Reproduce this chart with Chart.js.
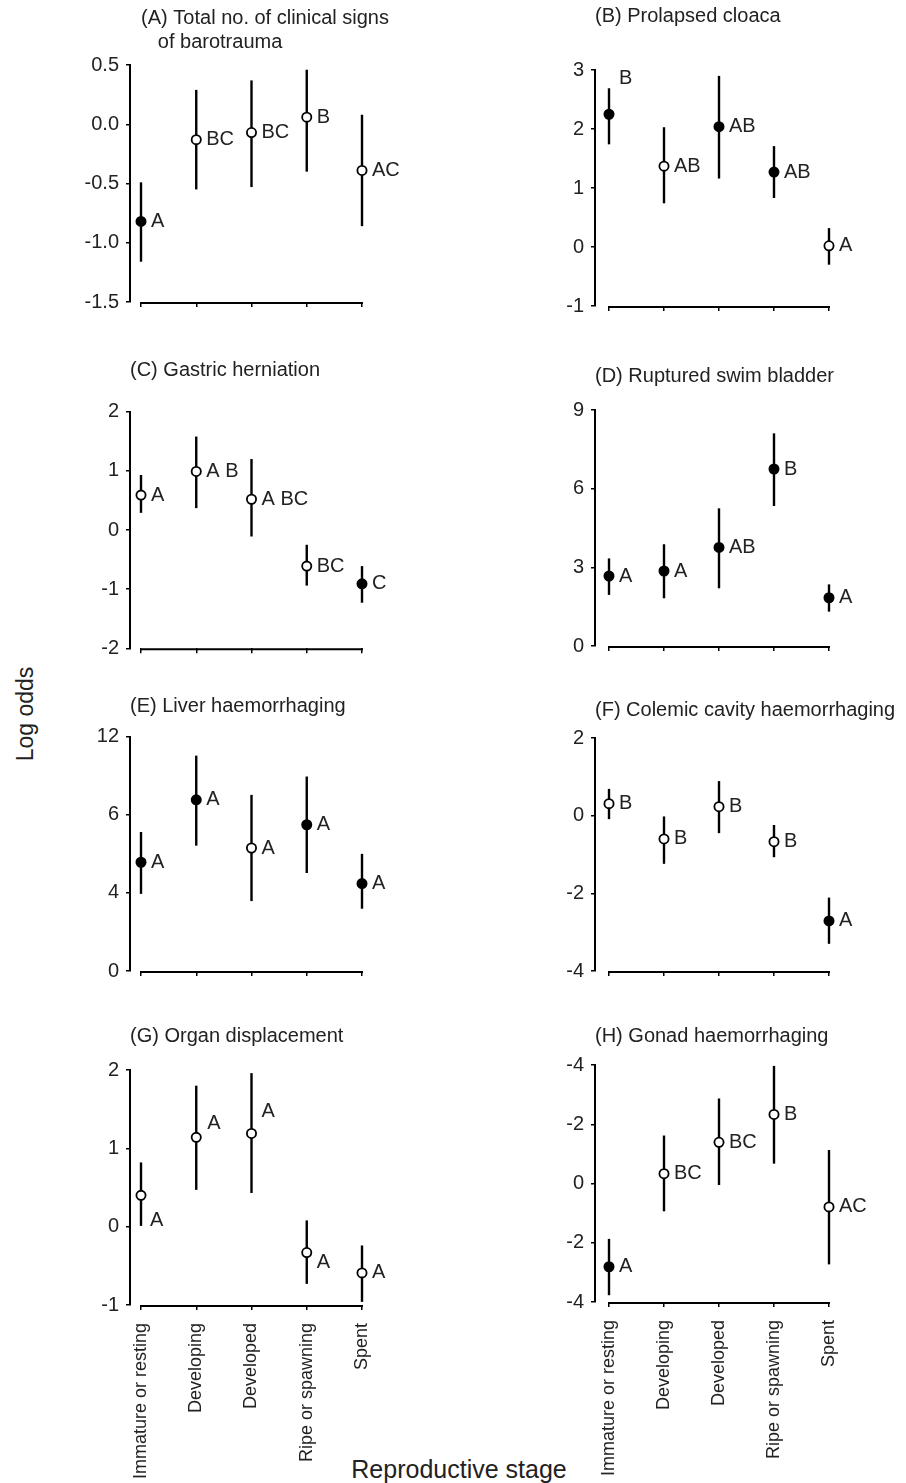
<!DOCTYPE html>
<html>
<head>
<meta charset="utf-8">
<script src="https://cdn.jsdelivr.net/npm/chart.js@4.4.1/dist/chart.umd.min.js"></script>
<style>
  html, body { margin: 0; padding: 0; background: #fff; }
  #wrap { position: relative; width: 906px; height: 1483px; overflow: hidden;
          font-family: "Liberation Sans", Arial, sans-serif; color: #222; }
  #wrap canvas { position: absolute; }
  .ylab { position: absolute; left: 25px; top: 714px; transform: translate(-50%, -50%) rotate(-90deg);
          font-size: 23px; white-space: nowrap; }
  .xlab { position: absolute; left: 459px; top: 1469px; transform: translate(-50%, -50%);
          font-size: 25px; white-space: nowrap; }
</style>
</head>
<body>
<div id="wrap">
  <div class="ylab">Log odds</div>
  <div class="xlab">Reproductive stage</div>
</div>
<script>
// ---------------- DATA ----------------
const stages = ["Immature or resting", "Developing", "Developed", "Ripe or spawning", "Spent"];

// (A) Total no. of clinical signs of barotrauma
const totalEst    = [-0.82, -0.13, -0.07, 0.06, -0.39];
const totalLow    = [-1.16, -0.55, -0.53, -0.40, -0.86];
const totalHigh   = [-0.49, 0.29, 0.37, 0.46, 0.08];
const totalFilled = [true, false, false, false, false];
const totalGroups = ["A", "BC", "BC", "B", "AC"];
const totalTicks  = [-1.5, -1, -0.5, 0, 0.5];
const totalTickLabels = ["-1.5", "-1.0", "-0.5", "0.0", "0.5"];

// (B) Prolapsed cloaca
const cloacaEst    = [2.25, 1.37, 2.04, 1.27, 0.02];
const cloacaLow    = [1.74, 0.74, 1.16, 0.83, -0.30];
const cloacaHigh   = [2.69, 2.03, 2.90, 1.71, 0.32];
const cloacaFilled = [true, false, true, true, false];
const cloacaGroups = ["B", "AB", "AB", "AB", "A"];
const cloacaTicks  = [-1, 0, 1, 2, 3];
const cloacaTickLabels = ["-1", "0", "1", "2", "3"];

// (C) Gastric herniation
const gastricEst    = [0.59, 0.99, 0.52, -0.61, -0.91];
const gastricLow    = [0.29, 0.37, -0.11, -0.94, -1.23];
const gastricHigh   = [0.93, 1.58, 1.20, -0.25, -0.61];
const gastricFilled = [false, false, false, false, true];
const gastricGroups = ["A", "A B", "A BC", "BC", "C"];
const gastricTicks  = [-2, -1, 0, 1, 2];
const gastricTickLabels = ["-2", "-1", "0", "1", "2"];

// (D) Ruptured swim bladder
const swimEst    = [2.67, 2.86, 3.76, 6.75, 1.84];
const swimLow    = [1.95, 1.82, 2.20, 5.34, 1.31];
const swimHigh   = [3.34, 3.88, 5.25, 8.11, 2.35];
const swimFilled = [true, true, true, true, true];
const swimGroups = ["A", "A", "AB", "B", "A"];
const swimTicks  = [0, 3, 6, 9];
const swimTickLabels = ["0", "3", "6", "9"];

// (E) Liver haemorrhaging
const liverEst    = [5.57, 8.77, 6.30, 7.49, 4.48];
const liverLow    = [3.95, 6.42, 3.58, 5.02, 3.19];
const liverHigh   = [7.12, 11.03, 9.02, 9.96, 6.00];
const liverFilled = [true, true, false, true, true];
const liverGroups = ["A", "A", "A", "A", "A"];
const liverTicks  = [0, 4, 8, 12];
const liverTickLabels = ["0", "4", "6", "12"];

// (F) Colemic cavity haemorrhaging
const colemicEst    = [0.31, -0.60, 0.23, -0.67, -2.71];
const colemicLow    = [-0.09, -1.24, -0.45, -1.07, -3.30];
const colemicHigh   = [0.69, -0.02, 0.89, -0.24, -2.11];
const colemicFilled = [false, false, false, false, true];
const colemicGroups = ["B", "B", "B", "B", "A"];
const colemicTicks  = [-4, -2, 0, 2];
const colemicTickLabels = ["-4", "-2", "0", "2"];

// (G) Organ displacement
const organEst    = [0.40, 1.14, 1.19, -0.33, -0.59];
const organLow    = [0.01, 0.47, 0.43, -0.73, -0.96];
const organHigh   = [0.82, 1.80, 1.96, 0.08, -0.24];
const organFilled = [false, false, false, false, false];
const organGroups = ["A", "A", "A", "A", "A"];
const organTicks  = [-1, 0, 1, 2];
const organTickLabels = ["-1", "0", "1", "2"];

// (H) Gonad haemorrhaging
const gonadEst    = [-2.81, 0.33, 1.39, 2.33, -0.79];
const gonadLow    = [-3.77, -0.94, -0.05, 0.67, -2.73];
const gonadHigh   = [-1.87, 1.62, 2.87, 3.97, 1.13];
const gonadFilled = [true, false, false, false, false];
const gonadGroups = ["A", "BC", "BC", "B", "AC"];
const gonadTicks  = [-4, -2, 0, 2, 4];
const gonadTickLabels = ["-4", "-2", "0", "-2", "-4"];

// ---------------- LAYOUT ----------------
const FONT = '"Liberation Sans", Arial, sans-serif';
const TEXT = '#222';
const COLS = [
  { canvasLeft: 30,  width: 440, axisX: 130, firstX: 141, lastX: 362 },
  { canvasLeft: 500, width: 420, axisX: 595, firstX: 609, lastX: 829 }
];
const panels = [
  { col: 0, top: 0,   height: 330, titleY: 18,    plotTop: 65,    plotBottom: 302,
    title: ["  (A) Total no. of clinical signs", "     of barotrauma"],
    est: totalEst, low: totalLow, high: totalHigh, filled: totalFilled, groups: totalGroups,
    ticks: totalTicks, tickLabels: totalTickLabels },
  { col: 1, top: 0,   height: 330, titleY: 16,    plotTop: 70,    plotBottom: 306,
    title: "(B) Prolapsed cloaca",
    est: cloacaEst, low: cloacaLow, high: cloacaHigh, filled: cloacaFilled, groups: cloacaGroups,
    ticks: cloacaTicks, tickLabels: cloacaTickLabels, shift: { 0: [10, -36] } },
  { col: 0, top: 330, height: 340, titleY: 370,   plotTop: 411.7, plotBottom: 648.3,
    title: "(C) Gastric herniation",
    est: gastricEst, low: gastricLow, high: gastricHigh, filled: gastricFilled, groups: gastricGroups,
    ticks: gastricTicks, tickLabels: gastricTickLabels },
  { col: 1, top: 330, height: 340, titleY: 376.7, plotTop: 410,   plotBottom: 646,
    title: "(D) Ruptured swim bladder",
    est: swimEst, low: swimLow, high: swimHigh, filled: swimFilled, groups: swimGroups,
    ticks: swimTicks, tickLabels: swimTickLabels },
  { col: 0, top: 660, height: 330, titleY: 706.7, plotTop: 736.7, plotBottom: 971.7,
    title: "(E) Liver haemorrhaging",
    est: liverEst, low: liverLow, high: liverHigh, filled: liverFilled, groups: liverGroups,
    ticks: liverTicks, tickLabels: liverTickLabels },
  { col: 1, top: 660, height: 330, titleY: 710,   plotTop: 738,   plotBottom: 973.5,
    title: "(F) Colemic cavity haemorrhaging",
    est: colemicEst, low: colemicLow, high: colemicHigh, filled: colemicFilled, groups: colemicGroups,
    ticks: colemicTicks, tickLabels: colemicTickLabels },
  { col: 0, top: 985, height: 498, titleY: 1036.7, plotTop: 1070, plotBottom: 1305, bottomRow: true,
    title: "(G) Organ displacement",
    est: organEst, low: organLow, high: organHigh, filled: organFilled, groups: organGroups,
    ticks: organTicks, tickLabels: organTickLabels,
    shift: { 0: [9, 25], 1: [11, -14], 2: [10, -22], 3: [10, 10], 4: [10, 0] } },
  { col: 1, top: 985, height: 498, titleY: 1036.7, plotTop: 1065, plotBottom: 1302, bottomRow: true,
    title: "(H) Gonad haemorrhaging",
    est: gonadEst, low: gonadLow, high: gonadHigh, filled: gonadFilled, groups: gonadGroups,
    ticks: gonadTicks, tickLabels: gonadTickLabels }
];

Chart.defaults.font.family = FONT;
Chart.defaults.color = TEXT;

const detachedXAxis = {
  id: 'detachedXAxis',
  beforeDatasetsDraw(chart) {
    const xs = chart.scales.x;
    const ctx = chart.ctx;
    const yy = chart.chartArea.bottom + 1;
    ctx.save();
    ctx.strokeStyle = '#000';
    ctx.lineWidth = 2;
    ctx.beginPath();
    ctx.moveTo(xs.getPixelForValue(0) - 1, yy);
    ctx.lineTo(xs.getPixelForValue(stages.length - 1) + 1, yy);
    ctx.stroke();
    ctx.restore();
  }
};

function groupLetters(p) {
  return {
    id: 'groupLetters',
    afterDatasetsDraw(chart) {
      const meta = chart.getDatasetMeta(0);
      const ctx = chart.ctx;
      ctx.save();
      ctx.font = '20px ' + FONT;
      ctx.fillStyle = TEXT;
      ctx.textBaseline = 'middle';
      ctx.textAlign = 'left';
      meta.data.forEach((pt, i) => {
        const s = (p.shift && p.shift[i]) || [10, 0];
        ctx.fillText(p.groups[i], pt.x + s[0], pt.y + s[1]);
      });
      ctx.restore();
    }
  };
}

const wrap = document.getElementById('wrap');
const LINE_H = 24;
const XH = 12;

panels.forEach(p => {
  const c = COLS[p.col];
  const canvas = document.createElement('canvas');
  canvas.width = c.width;
  canvas.height = p.height;
  canvas.style.left = c.canvasLeft + 'px';
  canvas.style.top = p.top + 'px';
  canvas.style.width = c.width + 'px';
  canvas.style.height = p.height + 'px';
  wrap.appendChild(canvas);

  const lines = Array.isArray(p.title) ? p.title.length : 1;
  const padTop = p.titleY - p.top - LINE_H / 2;
  const padBottom = p.plotTop - p.top - padTop - lines * LINE_H;
  const xh = p.bottomRow ? (1483 - 1305) : XH;
  const layoutBottom = p.top + p.height - p.plotBottom - xh;

  const datasets = [{
    data: p.est.map((v, i) => ({ x: i, y: v })),
    showLine: false,
    pointRadius: 4.6,
    pointHoverRadius: 4.6,
    pointBorderWidth: 1.8,
    pointBackgroundColor: p.filled.map(f => f ? '#000' : '#fff'),
    pointBorderColor: '#000',
    clip: false
  }];
  p.est.forEach((_, i) => {
    datasets.push({
      data: [{ x: i, y: p.low[i] }, { x: i, y: p.high[i] }],
      showLine: true,
      borderColor: '#000',
      borderWidth: 2.4,
      borderCapStyle: 'butt',
      pointRadius: 0,
      pointHoverRadius: 0,
      clip: false
    });
  });

  const chart = new Chart(canvas, {
    type: 'scatter',
    data: { datasets },
    plugins: [detachedXAxis, groupLetters(p)],
    options: {
      responsive: false,
      animation: false,
      events: [],
      layout: { padding: { left: 0, top: 0, right: 0, bottom: layoutBottom } },
      plugins: {
        legend: { display: false },
        tooltip: { enabled: false },
        title: {
          display: true,
          text: p.title,
          align: 'start',
          fullSize: false,
          color: TEXT,
          font: { size: 20, weight: 'normal', family: FONT, lineHeight: 1.2 },
          padding: { top: padTop, bottom: padBottom }
        }
      },
      scales: {
        x: {
          type: 'linear',
          min: -0.2,
          max: 6,
          afterBuildTicks: s => { s.ticks = stages.map((_, i) => ({ value: i })); },
          afterFit: s => { s.height = xh; s.paddingRight = 0; s.paddingLeft = 0; },
          grid: { drawOnChartArea: false, drawTicks: true, tickLength: 5, color: '#000', lineWidth: 1.5 },
          border: { display: false },
          ticks: {
            display: !!p.bottomRow,
            autoSkip: false,
            maxRotation: 90,
            minRotation: 90,
            padding: 13,
            color: TEXT,
            font: { size: 18, family: FONT },
            callback: v => stages[v]
          }
        },
        y: {
          type: 'linear',
          position: 'left',
          min: p.ticks[0],
          max: p.ticks[p.ticks.length - 1],
          afterBuildTicks: s => { s.ticks = p.ticks.map(v => ({ value: v })); },
          afterFit: s => { s.width = c.axisX - c.canvasLeft; },
          grid: { drawOnChartArea: false, drawTicks: true, tickLength: 4, color: '#000', lineWidth: 1.5 },
          border: { display: true, color: '#000', width: 2 },
          ticks: {
            padding: 7,
            color: TEXT,
            font: { size: 20, family: FONT },
            callback: v => p.tickLabels[p.ticks.indexOf(v)]
          }
        }
      }
    }
  });

  // second pass: fit the x range to the laid-out plot area so the stages
  // sit on the wanted pixel columns
  const area = chart.chartArea;
  const left = c.canvasLeft + area.left;
  const width = area.right - area.left;
  const ppu = (c.lastX - c.firstX) / (stages.length - 1);
  const xMin = -(c.firstX - left) / ppu;
  chart.options.scales.x.min = xMin;
  chart.options.scales.x.max = xMin + width / ppu;
  chart.update('none');
});
</script>
</body>
</html>
